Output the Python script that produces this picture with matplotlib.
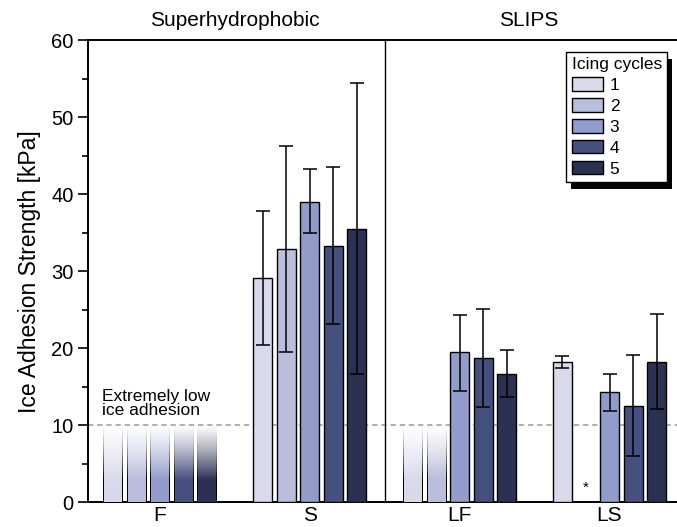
import numpy as np
import matplotlib
matplotlib.use("Agg")
import matplotlib.pyplot as plt
from matplotlib.patches import Patch, Rectangle
from matplotlib.colors import to_rgb

plt.rcParams['font.family'] = ['Liberation Sans', 'DejaVu Sans']

groups = ['F', 'S', 'LF', 'LS']
cycles = ['1', '2', '3', '4', '5']
colors = ['#d8daeb', '#b8bedc', '#929ccb', '#46507e', '#2b3153']

# measured values (nan = not measured / below threshold)
S_mean = [29.1, 32.9, 39.0, 33.3, 35.5]
S_lo = [20.4, 19.5, 34.9, 23.2, 16.6]
S_hi = [37.8, 46.2, 43.2, 43.5, 54.4]
LF_mean = [np.nan, np.nan, 19.5, 18.7, 16.7]
LF_lo = [np.nan, np.nan, 14.5, 12.3, 13.7]
LF_hi = [np.nan, np.nan, 24.3, 25.1, 19.8]
LS_mean = [18.2, np.nan, 14.3, 12.5, 18.2]
LS_lo = [17.4, np.nan, 11.8, 6.0, 12.1]
LS_hi = [19.0, np.nan, 16.7, 19.1, 24.4]

# bars that are below the "extremely low" threshold (drawn as faded bars)
low_bars = [(0, 0), (0, 1), (0, 2), (0, 3), (0, 4), (2, 0), (2, 1)]
threshold = 10
missing = [(3, 1)]

fig = plt.figure(figsize=(6.77, 5.27), dpi=100)
ax = fig.add_axes([0.13, 0.047, 0.87, 0.877])

width = 0.127
step = 0.157

data = {1: (S_mean, S_lo, S_hi), 2: (LF_mean, LF_lo, LF_hi), 3: (LS_mean, LS_lo, LS_hi)}
for g, (m, lo, hi) in data.items():
    for i in range(5):
        if np.isnan(m[i]):
            continue
        x = g + (i - 2) * step
        ax.bar(x, m[i], width, color=colors[i], edgecolor='black', linewidth=1.0, zorder=3)
        ax.errorbar(x, m[i], yerr=[[m[i] - lo[i]], [hi[i] - m[i]]], fmt='none',
                    ecolor='black', elinewidth=1.1, capsize=4.7, capthick=1.1, zorder=4)

# faded bars
ncol = 20
nrow = 100
t = np.linspace(0, 1, nrow)[:, None]
alpha = np.clip(t * 1.4, 0, 1) ** 1.2
for g, i in low_bars:
    x = g + (i - 2) * step
    img = np.zeros((nrow, ncol, 4))
    img[:, :, :3] = to_rgb(colors[i])
    img[:, 0, :3] = 0
    img[:, -1, :3] = 0
    img[:, :, 3] = alpha
    ax.imshow(img, extent=[x - width / 2, x + width / 2, 0, threshold],
              aspect='auto', origin='upper', zorder=3, interpolation='bilinear')

for g, i in missing:
    ax.text(g + (i - 2) * step, 1.0, '*', ha='center', va='bottom', fontsize=11)

ax.axhline(threshold, color='#999999', linestyle=(0, (3.5, 2.5)), linewidth=1.1, zorder=1)
ax.plot([1.5, 1.5], [0, 60], color='black', linewidth=1.0, zorder=2)
ax.text(-0.385, 10.9, 'Extremely low\nice adhesion', fontsize=12.5, ha='left', va='bottom',
        linespacing=0.92)

ax.set_xlim(-0.48, 3.45)
ax.set_ylim(0, 60)
ax.set_xticks(range(4))
ax.set_xticklabels(groups, fontsize=15)
ax.tick_params(axis='x', length=0, pad=3)
ax.set_yticks(range(0, 61, 10))
ax.set_yticks(range(5, 60, 10), minor=True)
ax.tick_params(axis='y', which='major', labelsize=14.5, length=7, width=1.2, direction='out')
ax.tick_params(axis='y', which='minor', length=4, width=1.2, direction='out')
ax.spines['right'].set_visible(False)
for s in ['left', 'bottom', 'top']:
    ax.spines[s].set_linewidth(1.4)
ax.set_ylabel('Ice Adhesion Strength [kPa]', fontsize=16.5, labelpad=7)

ax.text(0.5, 1.022, 'Superhydrophobic', transform=ax.get_xaxis_transform(),
        ha='center', va='bottom', fontsize=15)
ax.text(2.46, 1.022, 'SLIPS', transform=ax.get_xaxis_transform(),
        ha='center', va='bottom', fontsize=15)

handles = [Patch(facecolor=c, edgecolor='black', linewidth=1.0) for c in colors]
leg = ax.legend(handles, cycles, title='Icing cycles', loc='upper right',
                bbox_to_anchor=(0.983, 0.974), borderaxespad=0, fontsize=12.5,
                title_fontsize=12.5, frameon=True, fancybox=False, edgecolor='black',
                facecolor='white', framealpha=1, handlelength=1.8, handleheight=0.8,
                labelspacing=0.3, handletextpad=0.4, borderpad=0.3)
leg.get_frame().set_linewidth(1.0)
leg._legend_box.align = 'left'

# solid black drop shadow behind the legend
fig.canvas.draw()
bb = leg.get_window_extent()
shadow = Rectangle((bb.x0 + 5, bb.y0 - 7), bb.width, bb.height, transform=None,
                   facecolor='black', edgecolor='none', zorder=4.9, clip_on=False)
ax.add_artist(shadow)

fig.savefig('out.png', dpi=100)
